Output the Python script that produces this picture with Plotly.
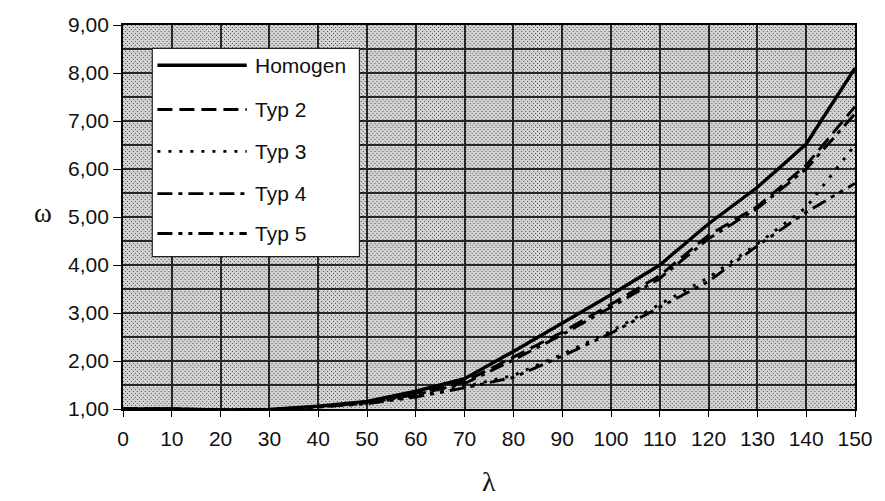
import base64
import plotly.graph_objects as go

# Slenderness values (x axis)
lam = [0, 10, 20, 30, 40, 50, 60, 70, 80, 90, 100, 110, 120, 130, 140, 150]

# Buckling coefficients omega per cross-section type
homogen = [1.00, 1.00, 0.98, 0.99, 1.06, 1.16, 1.37, 1.63, 2.20, 2.78, 3.38, 4.00, 4.86, 5.62, 6.52, 8.10]
typ2 = [1.00, 1.00, 0.98, 0.99, 1.05, 1.14, 1.32, 1.57, 2.08, 2.60, 3.18, 3.78, 4.62, 5.22, 6.08, 7.30]
typ3 = [1.00, 1.00, 0.98, 0.99, 1.04, 1.12, 1.27, 1.47, 1.70, 2.14, 2.62, 3.18, 3.74, 4.44, 5.20, 6.50]
typ4 = [1.00, 1.00, 0.98, 0.99, 1.05, 1.13, 1.30, 1.53, 2.02, 2.55, 3.12, 3.72, 4.55, 5.18, 6.00, 7.15]
typ5 = [1.00, 1.00, 0.98, 0.99, 1.04, 1.11, 1.25, 1.44, 1.66, 2.10, 2.58, 3.12, 3.66, 4.40, 5.10, 5.70]

names = ["Homogen", "Typ 2", "Typ 3", "Typ 4", "Typ 5"]
series = [homogen, typ2, typ3, typ4, typ5]
dashes = ["solid", "15px,7px", "3px,8px", "15px,6px,4px,6px", "15px,6px,4px,6px,4px,6px"]
widths = [3.4, 2.9, 2.9, 2.9, 2.9]

FONT = "Liberation Sans, Arial, sans-serif"
GRID = "#262626"

W, H = 885, 501
ML, MR, MT, MB = 123, 23, 25, 92
PW, PH = W - ML - MR, H - MT - MB

# Stippled plot-area fill, drawn as a tiled SVG pattern
svg = (
    f'<svg xmlns="http://www.w3.org/2000/svg" width="{PW}" height="{PH}">'
    '<defs><pattern id="p" width="4" height="4" patternUnits="userSpaceOnUse">'
    '<rect width="4" height="4" fill="#d2d2d2"/>'
    '<rect x="0" y="0" width="1" height="1" fill="#555555"/>'
    '<rect x="2" y="2" width="1" height="1" fill="#555555"/>'
    '</pattern></defs>'
    f'<rect width="{PW}" height="{PH}" fill="url(#p)"/></svg>'
)
stipple = "data:image/svg+xml;base64," + base64.b64encode(svg.encode()).decode()

fig = go.Figure()
for name, ys, dash, w in zip(names, series, dashes, widths):
    fig.add_trace(go.Scatter(
        x=lam, y=ys, name=name, mode="lines",
        line=dict(color="black", width=w, dash=dash),
        showlegend=False,
    ))

# Boxed legend with long line samples, placed inside the plot area
shapes = [dict(type="rect", xref="paper", yref="paper",
               x0=0.040, x1=0.323, y0=0.397, y1=0.939,
               fillcolor="white", line=dict(color="#222", width=1.2), layer="above")]
annotations = []
legend_y = [0.895, 0.780, 0.671, 0.561, 0.457]
for name, dash, w, yy in zip(names, dashes, widths, legend_y):
    shapes.append(dict(type="line", xref="paper", yref="paper",
                       x0=0.047, x1=0.169, y0=yy, y1=yy,
                       line=dict(color="black", width=w, dash=dash), layer="above"))
    annotations.append(dict(xref="paper", yref="paper", x=0.178, y=yy,
                            text=name, showarrow=False, xanchor="left", yanchor="middle",
                            font=dict(family=FONT, size=21, color="#111")))

# Axis symbols
annotations.append(dict(xref="paper", yref="paper", x=(42 - ML) / PW, y=(H - MB - 213) / PH,
                        text="ω", showarrow=False, xanchor="center", yanchor="middle",
                        font=dict(family="Liberation Serif, serif", size=27, color="#111")))
annotations.append(dict(xref="paper", yref="paper", x=(492 - ML) / PW, y=(H - MB - 481) / PH,
                        text="λ", showarrow=False, xanchor="center", yanchor="middle",
                        font=dict(family="Liberation Serif, serif", size=28, color="#111")))

fig.update_layout(
    width=W, height=H,
    margin=dict(l=ML, r=MR, t=MT, b=MB),
    paper_bgcolor="white",
    plot_bgcolor="#c2c2c2",
    separators=", ",
    shapes=shapes,
    annotations=annotations,
    images=[dict(source=stipple, xref="paper", yref="paper", x=0, y=1,
                 sizex=1, sizey=1, xanchor="left", yanchor="top",
                 sizing="stretch", layer="below")],
    xaxis=dict(
        range=[0, 150], tick0=0, dtick=10,
        showgrid=True, gridcolor=GRID, gridwidth=1.5,
        ticks="outside", ticklen=6, tickcolor="black", ticklabelstandoff=4,
        showline=True, linecolor="black", linewidth=1.8, mirror=True,
        zeroline=False,
        tickfont=dict(family=FONT, size=21, color="#111"),
    ),
    yaxis=dict(
        range=[1, 9], tick0=1, dtick=1, tickformat=".2f",
        showgrid=True, gridcolor=GRID, gridwidth=1.5,
        minor=dict(dtick=0.5, showgrid=True, gridcolor=GRID, gridwidth=1.5),
        ticks="outside", ticklen=8, tickcolor="black",
        showline=True, linecolor="black", linewidth=1.8, mirror=True,
        zeroline=False,
        tickfont=dict(family=FONT, size=21, color="#111"),
    ),
)

fig.write_html("out.html")
